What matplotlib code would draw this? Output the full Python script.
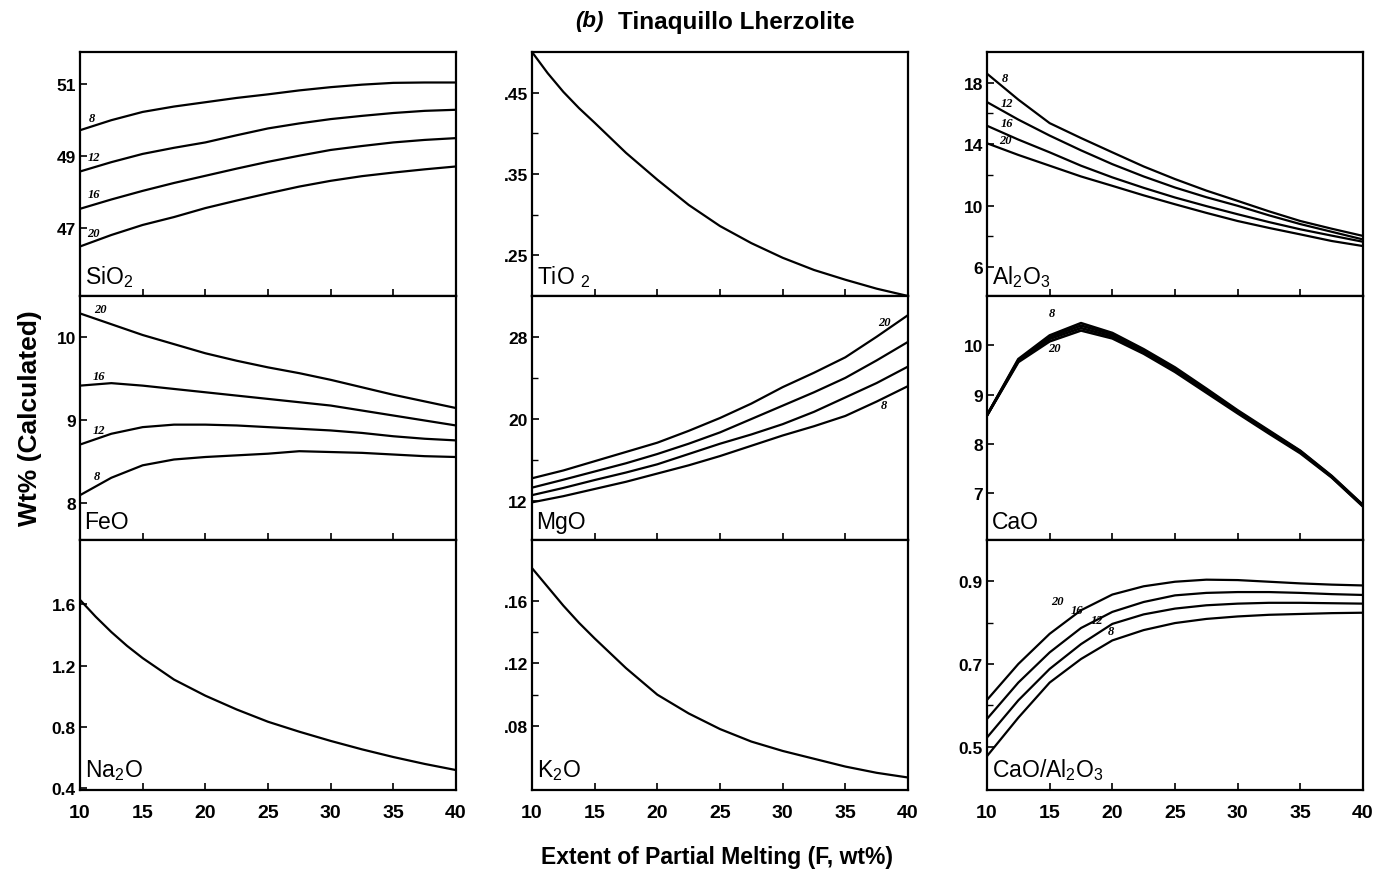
import matplotlib.pyplot as plt
from matplotlib.ticker import FixedLocator

plt.rcParams['font.family'] = ['Liberation Sans', 'DejaVu Sans']
plt.rcParams['mathtext.fontset'] = 'custom'
plt.rcParams['mathtext.rm'] = 'Liberation Sans'

# melting extent F (wt%)
F = [10, 12.5, 15, 17.5, 20, 22.5, 25, 27.5, 30, 32.5, 35, 37.5, 40]
# denser near the start for the steep single curves
F_single = [10, 11.25, 12.5, 13.75, 15, 17.5, 20, 22.5, 25, 27.5, 30, 32.5, 35, 37.5, 40]
pressures = ['8', '12', '16', '20']  # kbar, curve labels

sio2 = {
    '8': [49.72, 50.0, 50.23, 50.38, 50.5, 50.62, 50.72, 50.83, 50.92, 50.99, 51.04, 51.05, 51.05],
    '12': [48.57, 48.83, 49.06, 49.23, 49.38, 49.58, 49.77, 49.91, 50.03, 50.12, 50.2, 50.26, 50.29],
    '16': [47.53, 47.79, 48.03, 48.25, 48.45, 48.65, 48.84, 49.01, 49.17, 49.28, 49.38, 49.45, 49.5],
    '20': [46.48, 46.8, 47.08, 47.3, 47.55, 47.76, 47.96, 48.15, 48.31, 48.44, 48.54, 48.63, 48.71],
}
feo = {
    '8': [8.09, 8.30, 8.45, 8.52, 8.55, 8.57, 8.59, 8.62, 8.61, 8.60, 8.58, 8.56, 8.55],
    '12': [8.70, 8.83, 8.91, 8.94, 8.94, 8.93, 8.91, 8.89, 8.87, 8.84, 8.80, 8.77, 8.75],
    '16': [9.41, 9.44, 9.41, 9.37, 9.33, 9.29, 9.25, 9.21, 9.17, 9.11, 9.05, 8.99, 8.93],
    '20': [10.28, 10.15, 10.02, 9.91, 9.80, 9.71, 9.63, 9.56, 9.48, 9.39, 9.30, 9.22, 9.14],
}
na2o = [1.63, 1.52, 1.42, 1.33, 1.25, 1.11, 1.005, 0.915, 0.835, 0.77, 0.71, 0.655, 0.605, 0.56, 0.52]
tio2 = [0.50, 0.474, 0.451, 0.431, 0.413, 0.376, 0.343, 0.312, 0.286, 0.265, 0.247, 0.232, 0.220, 0.209, 0.20]
mgo = {
    '8': [11.9, 12.5, 13.2, 13.9, 14.7, 15.5, 16.4, 17.4, 18.4, 19.3, 20.3, 21.7, 23.2],
    '12': [12.6, 13.3, 14.07, 14.8, 15.6, 16.6, 17.6, 18.5, 19.5, 20.7, 22.1, 23.5, 25.1],
    '16': [13.33, 14.1, 14.9, 15.7, 16.6, 17.6, 18.7, 20.0, 21.3, 22.6, 24.0, 25.7, 27.5],
    '20': [14.24, 15.0, 15.9, 16.8, 17.7, 18.85, 20.1, 21.5, 23.1, 24.5, 26.0, 28.0, 30.1],
}
k2o = [0.181, 0.169, 0.157, 0.146, 0.136, 0.117, 0.100, 0.088, 0.078, 0.070, 0.064, 0.059, 0.054, 0.050, 0.047]
al2o3 = {
    '8': [18.59, 16.9, 15.37, 14.4, 13.47, 12.55, 11.73, 10.98, 10.31, 9.63, 9.0, 8.5, 8.03],
    '12': [16.74, 15.6, 14.56, 13.6, 12.7, 11.9, 11.18, 10.55, 9.99, 9.37, 8.8, 8.3, 7.8],
    '16': [15.2, 14.3, 13.47, 12.6, 11.84, 11.16, 10.53, 9.97, 9.44, 8.93, 8.46, 8.05, 7.65],
    '20': [14.06, 13.3, 12.6, 11.9, 11.29, 10.67, 10.09, 9.53, 9.0, 8.55, 8.13, 7.7, 7.37],
}
cao = {
    '8': [8.58, 9.72, 10.20, 10.45, 10.25, 9.92, 9.55, 9.12, 8.68, 8.27, 7.86, 7.35, 6.76],
    '12': [8.58, 9.70, 10.17, 10.40, 10.22, 9.89, 9.52, 9.10, 8.66, 8.25, 7.85, 7.34, 6.75],
    '16': [8.58, 9.68, 10.13, 10.35, 10.18, 9.86, 9.49, 9.07, 8.64, 8.23, 7.83, 7.33, 6.74],
    '20': [8.58, 9.66, 10.08, 10.30, 10.14, 9.83, 9.46, 9.04, 8.62, 8.21, 7.81, 7.32, 6.73],
}
ca_al = {
    '8': [0.477, 0.57, 0.655, 0.712, 0.757, 0.782, 0.799, 0.809, 0.815, 0.819, 0.821, 0.823, 0.824],
    '12': [0.522, 0.612, 0.688, 0.748, 0.797, 0.820, 0.834, 0.842, 0.846, 0.848, 0.848, 0.847, 0.846],
    '16': [0.567, 0.655, 0.728, 0.787, 0.826, 0.850, 0.866, 0.872, 0.874, 0.874, 0.872, 0.869, 0.867],
    '20': [0.613, 0.70, 0.773, 0.830, 0.868, 0.888, 0.899, 0.904, 0.903, 0.899, 0.895, 0.892, 0.89],
}

W, H = 1378, 879
fig = plt.figure(figsize=(W / 100, H / 100), dpi=100)

col_left = [80, 532, 987]
col_w = 376
row_top = [53, 297, 541]
row_h = [244, 244, 250]


def make_ax(col, row):
    l = col_left[col] / W
    b = 1 - (row_top[row] + row_h[row]) / H
    ax = fig.add_axes([l, b, col_w / W, row_h[row] / H])
    ax.set_xlim(10, 40)
    ax.set_xticks([10, 15, 20, 25, 30, 35, 40])
    ax.tick_params(direction='in', length=5, width=1.2, top=False, right=False,
                   labelsize=12.5, pad=3)
    ax.tick_params(which='minor', direction='in', length=4, width=1.0)
    for s in ax.spines.values():
        s.set_linewidth(1.6)
    if row == 2:
        ax.tick_params(axis='x', labelsize=14, pad=10)
        for t in ax.get_xticklabels():
            t.set_fontweight('bold')
    else:
        ax.tick_params(axis='x', labelbottom=False)
    return ax


def setup_y(ax, lim, major, labels, minor=None):
    ax.set_ylim(*lim)
    ax.set_yticks(major)
    ax.set_yticklabels(labels, fontweight='bold', fontsize=12.5)
    if minor:
        ax.yaxis.set_minor_locator(FixedLocator(minor))


def panel_label(ax, txt):
    ax.text(0.012, 0.03, txt, transform=ax.transAxes, fontsize=16.5,
            ha='left', va='bottom')


def curve_label(ax, x, y, txt):
    ax.text(x, y, txt, fontsize=9, fontstyle='italic', fontweight='bold',
            family='Liberation Serif', ha='left', va='center')


lw = 1.6

# SiO2
ax = make_ax(0, 0)
for p in pressures:
    ax.plot(F, sio2[p], color='black', lw=lw)
setup_y(ax, (45.1, 51.9), [47, 49, 51], ['47', '49', '51'])
panel_label(ax, r'SiO$_2$')
for p, (x, y) in zip(pressures, [(10.7, 50.05), (10.6, 48.97), (10.6, 47.94), (10.6, 46.86)]):
    curve_label(ax, x, y, p)

# FeO
ax = make_ax(0, 1)
for p in pressures:
    ax.plot(F, feo[p], color='black', lw=lw)
setup_y(ax, (7.55, 10.49), [8, 9, 10], ['8', '9', '10'])
panel_label(ax, 'FeO')
for p, (x, y) in zip(pressures, [(11.1, 8.32), (11.0, 8.87), (11.0, 9.53), (11.1, 10.33)]):
    curve_label(ax, x, y, p)

# Na2O
ax = make_ax(0, 2)
ax.plot(F_single, na2o, color='black', lw=lw)
setup_y(ax, (0.39, 2.02), [0.4, 0.8, 1.2, 1.6], ['0.4', '0.8', '1.2', '1.6'])
panel_label(ax, r'Na$_2$O')

# TiO2
ax = make_ax(1, 0)
ax.plot(F_single, tio2, color='black', lw=lw)
setup_y(ax, (0.20, 0.50), [0.25, 0.35, 0.45], ['.25', '.35', '.45'], [0.30, 0.40])
panel_label(ax, r'TiO $_2$')

# MgO
ax = make_ax(1, 1)
for p in pressures:
    ax.plot(F, mgo[p], color='black', lw=lw)
setup_y(ax, (8.24, 31.96), [12, 20, 28], ['12', '20', '28'], [16, 24])
panel_label(ax, 'MgO')
curve_label(ax, 37.6, 29.4, '20')
curve_label(ax, 37.8, 21.4, '8')

# K2O
ax = make_ax(1, 2)
ax.plot(F_single, k2o, color='black', lw=lw)
setup_y(ax, (0.039, 0.199), [0.08, 0.12, 0.16], ['.08', '.12', '.16'], [0.10, 0.14])
panel_label(ax, r'K$_2$O')

# Al2O3
ax = make_ax(2, 0)
for p in pressures:
    ax.plot(F, al2o3[p], color='black', lw=lw)
setup_y(ax, (4.12, 20.0), [6, 10, 14, 18], ['6', '10', '14', '18'], [8, 12, 16])
panel_label(ax, r'Al$_2$O$_3$')
for p, (x, y) in zip(pressures, [(11.2, 18.3), (11.1, 16.7), (11.1, 15.35), (11.0, 14.3)]):
    curve_label(ax, x, y, p)

# CaO
ax = make_ax(2, 1)
for p in pressures:
    ax.plot(F, cao[p], color='black', lw=1.9)
setup_y(ax, (6.05, 11.0), [7, 8, 9, 10], ['7', '8', '9', '10'])
panel_label(ax, 'CaO')
curve_label(ax, 14.9, 10.66, '8')
curve_label(ax, 14.9, 9.94, '20')

# CaO/Al2O3
ax = make_ax(2, 2)
for p in pressures:
    ax.plot(F, ca_al[p], color='black', lw=lw)
setup_y(ax, (0.395, 1.0), [0.5, 0.7, 0.9], ['0.5', '0.7', '0.9'], [0.6, 0.8])
panel_label(ax, r'CaO/Al$_2$O$_3$')
for p, (x, y) in zip(pressures, [(19.6, 0.78), (18.3, 0.807), (16.7, 0.831), (15.1, 0.853)]):
    curve_label(ax, x, y, p)

fig.text(604 / W, 1 - 22 / H, '(b)', ha='right', va='center',
         fontsize=16, fontweight='bold', fontstyle='italic')
fig.text(618 / W, 1 - 22 / H, 'Tinaquillo Lherzolite', ha='left', va='center',
         fontsize=17.5, fontweight='bold')
fig.text(30 / W, 1 - 418 / H, 'Wt% (Calculated)', rotation=90, ha='center', va='center',
         fontsize=19, fontweight='bold')
fig.text(717 / W, 1 - 858 / H, 'Extent of Partial Melting (F, wt%)', ha='center', va='center',
         fontsize=16.5, fontweight='bold')

fig.savefig('out.png', dpi=100)
